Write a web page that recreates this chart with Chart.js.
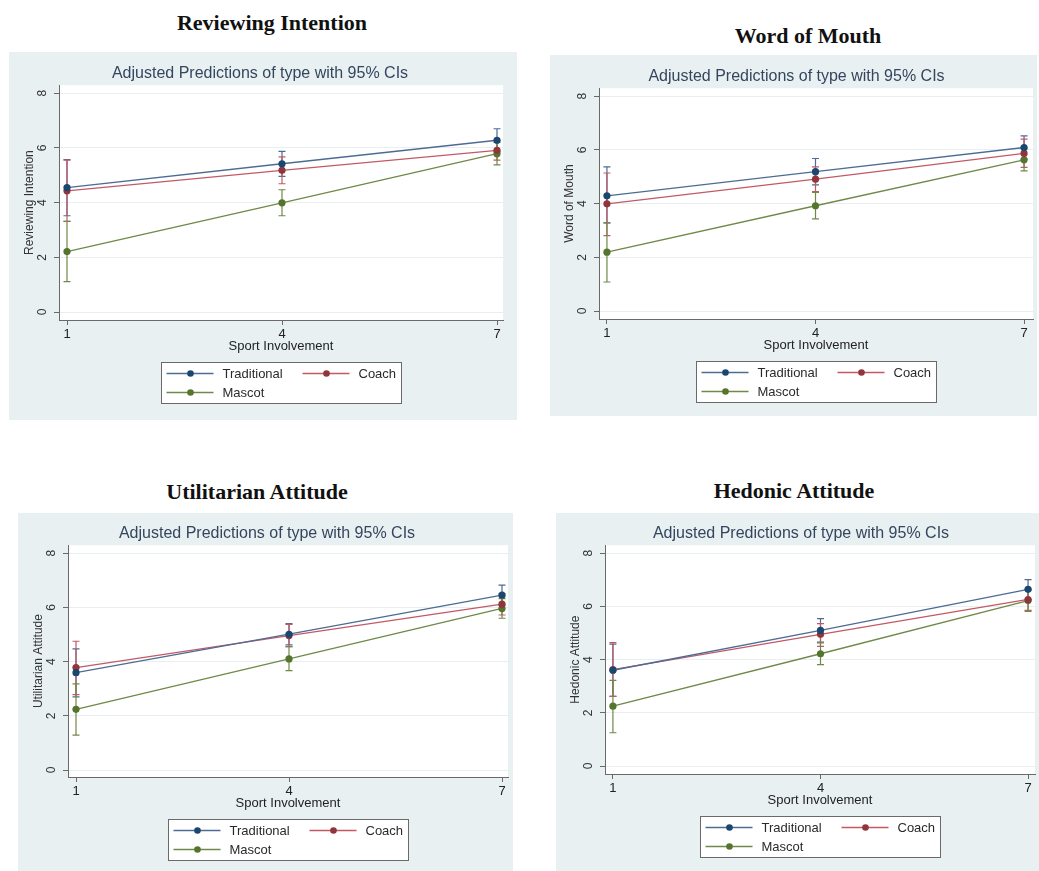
<!DOCTYPE html>
<html>
<head>
<meta charset="utf-8">
<title>Adjusted predictions by sport involvement</title>
<script src="https://cdn.jsdelivr.net/npm/chart.js@4.4.1/dist/chart.umd.min.js"></script>
<style>
  body { margin: 0; background: #fff; width: 1039px; height: 871px; position: relative; overflow: hidden; }
  .panel { position: absolute; background: #e9f0f2; }
  .panel canvas { display: block; }
  .heading {
    position: absolute; transform: translate(-50%, -50%); white-space: nowrap;
    font: bold 22px "Liberation Serif", "Times New Roman", serif; color: #111;
  }
</style>
</head>
<body>
<div class="heading" style="left:272px;top:23px">Reviewing Intention</div>
<div class="heading" style="left:808px;top:36px">Word of Mouth</div>
<div class="heading" style="left:257px;top:492px">Utilitarian Attitude</div>
<div class="heading" style="left:794px;top:491px">Hedonic Attitude</div>

<div class="panel" style="left:9px;top:52px;width:508px;height:368px"><canvas id="review" width="508" height="368"></canvas></div>
<div class="panel" style="left:550px;top:55px;width:487px;height:361px"><canvas id="wom" width="487" height="361"></canvas></div>
<div class="panel" style="left:18px;top:513px;width:495px;height:358px"><canvas id="util" width="495" height="358"></canvas></div>
<div class="panel" style="left:556px;top:513px;width:483px;height:358px"><canvas id="hedonic" width="483" height="358"></canvas></div>

<script>
// sport involvement levels and tick values
const involvement = [1, 4, 7];
const yTicks = [0, 2, 4, 6, 8];
const groups = ['Traditional', 'Coach', 'Mascot'];

// Reviewing Intention: predicted margins and 95% CIs
const reviewTraditional = [4.55, 5.42, 6.28];
const reviewTraditionalCI = [[3.52, 5.57], [4.96, 5.87], [5.86, 6.70]];
const reviewCoach = [4.43, 5.18, 5.91];
const reviewCoachCI = [[3.31, 5.55], [4.69, 5.67], [5.55, 6.27]];
const reviewMascot = [2.21, 3.99, 5.79];
const reviewMascotCI = [[1.11, 3.31], [3.52, 4.47], [5.38, 6.20]];

// Word of Mouth
const womTraditional = [4.29, 5.19, 6.09];
const womTraditionalCI = [[3.28, 5.37], [4.70, 5.68], [5.66, 6.52]];
const womCoach = [3.99, 4.91, 5.87];
const womCoachCI = [[2.81, 5.14], [4.45, 5.37], [5.35, 6.40]];
const womMascot = [2.19, 3.92, 5.63];
const womMascotCI = [[1.08, 3.28], [3.43, 4.42], [5.22, 6.05]];

// Utilitarian Attitude
const utilTraditional = [3.59, 5.01, 6.45];
const utilTraditionalCI = [[2.70, 4.47], [4.62, 5.40], [6.08, 6.82]];
const utilCoach = [3.78, 4.96, 6.12];
const utilCoachCI = [[2.78, 4.75], [4.55, 5.37], [5.72, 6.50]];
const utilMascot = [2.24, 4.10, 5.96];
const utilMascotCI = [[1.29, 3.18], [3.67, 4.55], [5.60, 6.32]];

// Hedonic Attitude
const hedTraditional = [3.60, 5.10, 6.64];
const hedTraditionalCI = [[2.62, 4.58], [4.66, 5.54], [6.25, 7.01]];
const hedCoach = [3.62, 4.95, 6.26];
const hedCoachCI = [[2.62, 4.64], [4.50, 5.35], [5.85, 6.65]];
const hedMascot = [2.25, 4.22, 6.22];
const hedMascotCI = [[1.25, 3.22], [3.81, 4.63], [5.81, 6.60]];

const FONT = '"Liberation Sans", Arial, sans-serif';
const markerColors = ['#1a476f', '#90353b', '#55752f'];
const lineColors = ['#4d6b93', '#c25a66', '#6f8a48'];

// white plot region inside the tinted graph region
const plotBackground = {
  id: 'plotBackground',
  beforeDraw(chart) {
    const { ctx, chartArea: a } = chart;
    ctx.save();
    ctx.fillStyle = '#ffffff';
    ctx.fillRect(a.left, a.top, a.right - a.left, a.bottom - a.top);
    ctx.restore();
  }
};

// capped confidence interval spikes
const ciBars = {
  id: 'ciBars',
  beforeDatasetsDraw(chart) {
    const { ctx, scales: { x, y } } = chart;
    ctx.save();
    chart.data.datasets.forEach((ds, di) => {
      ctx.strokeStyle = lineColors[di];
      ctx.lineWidth = 1.2;
      ds.ci.forEach((ci, i) => {
        const px = x.getPixelForValue(involvement[i]);
        const lo = y.getPixelForValue(ci[0]);
        const hi = y.getPixelForValue(ci[1]);
        ctx.beginPath();
        ctx.moveTo(px, lo); ctx.lineTo(px, hi);
        ctx.moveTo(px - 3.5, lo); ctx.lineTo(px + 3.5, lo);
        ctx.moveTo(px - 3.5, hi); ctx.lineTo(px + 3.5, hi);
        ctx.stroke();
      });
    });
    ctx.restore();
  }
};

// boxed two-column legend under the x axis title
const boxedLegend = {
  id: 'boxedLegend',
  afterDraw(chart) {
    const { ctx, chartArea: a } = chart;
    const w = 240, h = 41;
    const left = Math.round((a.left + a.right) / 2 - w / 2) + 0.5;
    const top = Math.round(a.bottom + 42) + 0.5;
    ctx.save();
    ctx.fillStyle = '#ffffff';
    ctx.fillRect(left, top, w, h);
    ctx.strokeStyle = '#6a6a6a';
    ctx.lineWidth = 1;
    ctx.strokeRect(left, top, w, h);
    ctx.font = '13px ' + FONT;
    ctx.textBaseline = 'middle';
    chart.data.datasets.forEach((ds, i) => {
      const col = i % 2, row = Math.floor(i / 2);
      const x0 = left + (col ? 141 : 5);
      const yy = top + (row ? 30 : 11);
      ctx.strokeStyle = lineColors[i];
      ctx.lineWidth = 1.3;
      ctx.beginPath();
      ctx.moveTo(x0, yy); ctx.lineTo(x0 + 47, yy);
      ctx.stroke();
      ctx.fillStyle = markerColors[i];
      ctx.beginPath();
      ctx.arc(x0 + 24, yy, 3.3, 0, Math.PI * 2);
      ctx.fill();
      ctx.fillStyle = '#2a2a2a';
      ctx.fillText(ds.label, x0 + 56, yy + 1);
    });
    ctx.restore();
  }
};

// value range that puts two known values on given pixels of the plot region
function rangeFor(startPx, endPx, v0, p0, v1, p1) {
  const unit = (p1 - p0) / (v1 - v0);
  return { min: v0 + (startPx - p0) / unit, max: v0 + (endPx - p0) / unit };
}

function drawPanel(id, yTitle, series, box) {
  const canvas = document.getElementById(id);
  const W = canvas.width, H = canvas.height;
  const xr = rangeFor(box.left, box.right, 1, box.x1, 7, box.x7);
  const yr = rangeFor(box.bottom, box.top, 0, box.y0, 8, box.y8);

  const datasets = series.map((s, i) => ({
    label: groups[i],
    data: involvement.map((v, k) => ({ x: v, y: s.values[k] })),
    ci: s.ci,
    borderColor: lineColors[i],
    borderWidth: 1.3,
    backgroundColor: markerColors[i],
    pointBackgroundColor: markerColors[i],
    pointBorderColor: markerColors[i],
    pointRadius: 3.6,
    pointBorderWidth: 0,
    tension: 0
  }));

  new Chart(canvas, {
    type: 'line',
    data: { datasets },
    options: {
      responsive: false,
      animation: false,
      layout: {
        padding: { left: box.left - 42, top: box.top - 21, right: W - box.right, bottom: H - box.bottom - 34 }
      },
      plugins: {
        legend: { display: false },
        tooltip: { enabled: false },
        title: {
          display: true,
          text: 'Adjusted Predictions of type with 95% CIs',
          color: '#34465e',
          font: { family: FONT, size: 16, weight: 'normal' },
          padding: { top: 0, bottom: 2 }
        }
      },
      scales: {
        x: {
          type: 'linear',
          min: xr.min,
          max: xr.max,
          afterBuildTicks: s => { s.ticks = involvement.map(v => ({ value: v })); },
          afterFit: s => { s.height = 34; },
          grid: { drawOnChartArea: false, tickLength: 5, tickColor: '#6a6a6a' },
          border: { color: '#6a6a6a', width: 1 },
          ticks: { color: '#222', padding: 2, font: { family: FONT, size: 13 } },
          title: { display: true, text: 'Sport Involvement', color: '#222', padding: 0, font: { family: FONT, size: 13 } }
        },
        y: {
          type: 'linear',
          min: yr.min,
          max: yr.max,
          afterBuildTicks: s => { s.ticks = yTicks.map(v => ({ value: v })); },
          afterFit: s => { s.width = 42; },
          grid: { color: '#e8eff1', tickLength: 5, tickColor: '#6a6a6a' },
          border: { color: '#6a6a6a', width: 1 },
          ticks: { minRotation: 90, maxRotation: 90, crossAlign: 'center', padding: 8, color: '#333', font: { family: FONT, size: 12 } },
          title: { display: true, text: yTitle, color: '#333', padding: { top: 5, bottom: 0 }, font: { family: FONT, size: 12 } }
        }
      }
    },
    plugins: [plotBackground, ciBars, boxedLegend]
  });
}

drawPanel('review', 'Reviewing Intention', [
  { values: reviewTraditional, ci: reviewTraditionalCI },
  { values: reviewCoach, ci: reviewCoachCI },
  { values: reviewMascot, ci: reviewMascotCI }
], { left: 50, top: 33, right: 494, bottom: 268, x1: 58, x7: 488, y0: 260, y8: 41 });

drawPanel('wom', 'Word of Mouth', [
  { values: womTraditional, ci: womTraditionalCI },
  { values: womCoach, ci: womCoachCI },
  { values: womMascot, ci: womMascotCI }
], { left: 49, top: 33, right: 486, bottom: 264, x1: 57, x7: 477, y0: 256, y8: 41 });

drawPanel('util', 'Utilitarian Attitude', [
  { values: utilTraditional, ci: utilTraditionalCI },
  { values: utilCoach, ci: utilCoachCI },
  { values: utilMascot, ci: utilMascotCI }
], { left: 50, top: 32, right: 490, bottom: 264, x1: 58, x7: 484, y0: 257, y8: 40 });

drawPanel('hedonic', 'Hedonic Attitude', [
  { values: hedTraditional, ci: hedTraditionalCI },
  { values: hedCoach, ci: hedCoachCI },
  { values: hedMascot, ci: hedMascotCI }
], { left: 49, top: 32, right: 483, bottom: 261, x1: 57, x7: 476, y0: 253, y8: 40 });
</script>
</body>
</html>
